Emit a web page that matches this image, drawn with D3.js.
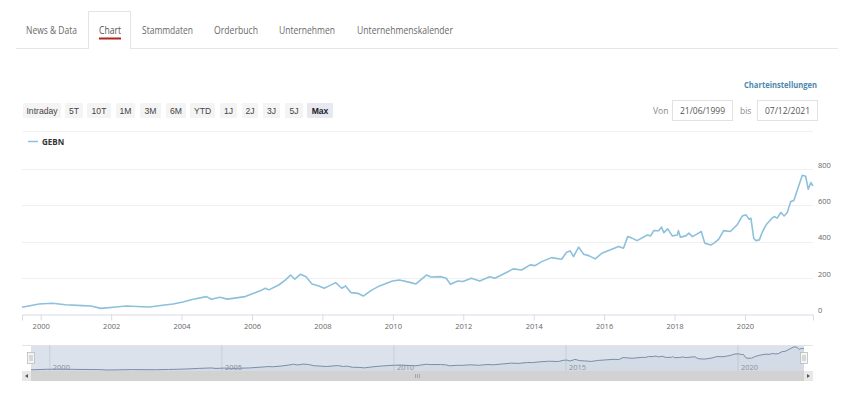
<!DOCTYPE html>
<html><head><meta charset="utf-8">
<script src="https://cdn.jsdelivr.net/npm/d3@7/dist/d3.min.js"></script>
<style>
html,body{margin:0;padding:0;background:#fff;}
svg{display:block;font-family:"Open Sans",sans-serif;}
</style></head>
<body><svg id="c" width="860" height="394"></svg>
<script>
// ---- data ----
const tabs = ["News & Data","Chart","Stammdaten","Orderbuch","Unternehmen","Unternehmenskalender"];
const rangeButtons = ["Intraday","5T","10T","1M","3M","6M","YTD","1J","2J","3J","5J","Max"];
const seriesName = "GEBN";
const fromDate = "21/06/1999";
const toDate = "07/12/2021";
const yTicks = [0,200,400,600,800];
const dates = ["1999-06-21","1999-12-15","2000-05-01","2000-09-15","2001-03-10","2001-06-05","2001-09-15","2002-02-20","2002-06-05","2002-11-25","2003-02-01","2003-06-20","2003-10-05","2004-01-15","2004-05-01","2004-09-15","2004-11-05","2005-02-01","2005-04-20","2005-10-22","2006-04-15","2006-05-20","2006-06-25","2006-10-05","2006-12-15","2007-02-05","2007-03-20","2007-05-18","2007-07-15","2007-09-15","2007-11-25","2008-01-20","2008-03-10","2008-05-18","2008-07-20","2008-08-28","2008-10-22","2009-01-01","2009-03-01","2009-05-18","2009-08-15","2009-12-28","2010-03-10","2010-07-08","2010-08-28","2010-12-15","2011-02-01","2011-05-15","2011-07-08","2011-08-22","2011-11-05","2011-12-28","2012-03-25","2012-06-20","2012-10-01","2012-11-25","2013-03-08","2013-06-03","2013-08-28","2013-11-25","2014-01-15","2014-03-25","2014-07-05","2014-10-18","2014-12-08","2015-01-15","2015-02-18","2015-04-12","2015-06-03","2015-07-25","2015-10-01","2015-12-08","2016-03-08","2016-05-30","2016-07-20","2016-09-02","2016-10-12","2016-12-08","2017-03-25","2017-04-28","2017-05-30","2017-07-20","2017-08-18","2017-09-12","2017-10-22","2017-12-08","2018-01-30","2018-02-10","2018-03-03","2018-04-28","2018-05-30","2018-07-05","2018-08-25","2018-10-05","2018-11-10","2019-01-12","2019-02-14","2019-04-05","2019-05-25","2019-08-03","2019-09-05","2019-10-12","2019-12-05","2020-01-12","2020-02-14","2020-03-03","2020-04-01","2020-04-22","2020-05-30","2020-07-01","2020-08-08","2020-09-28","2020-10-30","2020-12-01","2021-01-08","2021-02-10","2021-03-15","2021-04-20","2021-05-22","2021-08-18","2021-09-22","2021-10-18","2021-11-15","2021-12-07"];
const values = [37,55,59,51,46,44,31,39,44,40,39,48,55,66,81,96,81,92,82,96,133,142,133,160,188,215,192,219,206,166,155,142,155,173,142,155,118,114,99,129,155,182,188,173,166,215,204,206,197,164,182,179,197,182,206,197,225,249,243,271,267,289,311,302,341,348,317,369,330,322,304,335,355,372,363,427,420,405,436,431,460,459,479,449,470,431,436,460,424,431,446,427,442,455,391,381,391,413,460,455,473,492,541,547,523,529,418,405,409,455,492,523,538,529,560,541,560,620,626,765,760,689,725,707];

const parse = d3.timeParse("%Y-%m-%d");
const data = dates.map((d,i)=>({date:parse(d), value:values[i]}));
const svg = d3.select("#c");
const lineColor = "#8cc0dc";

// ---- tabs ----
const tabX = [[26,77],[99,121],[142,193],[214,258],[279,335],[357,453]];
svg.append("line").attr("x1",16).attr("x2",838).attr("y1",48.5).attr("y2",48.5).attr("stroke","#e6e6e6");
svg.append("path").attr("d","M88.5,49 V11.5 H130.5 V49").attr("fill","#fff").attr("stroke","#e3e3e3");
svg.append("rect").attr("x",89).attr("y",46).attr("width",41).attr("height",4).attr("fill","#fff");
tabs.forEach((t,i)=>{
  svg.append("text").attr("x",tabX[i][0]).attr("y",34).text(t)
    .attr("font-size",11).attr("fill", i===1?"#555":"#6a6a6a")
    .attr("textLength",tabX[i][1]-tabX[i][0]).attr("lengthAdjust","spacingAndGlyphs");
});
svg.append("rect").attr("x",99).attr("y",37.5).attr("width",22).attr("height",2).attr("fill","#b0261d");

// ---- range buttons ----
const btnX = [[23,61],[65,83],[87,111],[116,135],[140,161],[166,186],[190,215],[220,237],[242,258],[263,280],[285,303],[307,333]];
rangeButtons.forEach((b,i)=>{
  const sel = b==="Max";
  svg.append("rect").attr("x",btnX[i][0]).attr("y",103).attr("width",btnX[i][1]-btnX[i][0]).attr("height",15)
    .attr("fill", sel?"#e7e8f1":"#f4f4f4").attr("rx",1);
  svg.append("text").attr("x",(btnX[i][0]+btnX[i][1])/2).attr("y",113.5).attr("text-anchor","middle")
    .attr("font-family","'Liberation Sans',Arial,sans-serif").attr("font-size",8.6)
    .attr("font-weight",sel?"bold":"normal").attr("fill",sel?"#222":"#444").text(b);
});

// ---- right header ----
svg.append("text").attr("x",744).attr("y",88).text("Charteinstellungen").attr("font-size",9.5).attr("font-weight","bold")
  .attr("fill","#4a88ad").attr("textLength",73).attr("lengthAdjust","spacingAndGlyphs");
svg.append("text").attr("x",653).attr("y",114).text("Von").attr("font-size",8.5).attr("fill","#888");
svg.append("rect").attr("x",672.5).attr("y",100.5).attr("width",60).attr("height",20).attr("fill","#fff").attr("stroke","#e2e2e2");
svg.append("text").attr("x",702.5).attr("y",114).attr("text-anchor","middle").text(fromDate).attr("font-size",8.5).attr("fill","#555");
svg.append("text").attr("x",740).attr("y",114).text("bis").attr("font-size",8.5).attr("fill","#888");
svg.append("rect").attr("x",757.5).attr("y",100.5).attr("width",60).attr("height",20).attr("fill","#fff").attr("stroke","#e2e2e2");
svg.append("text").attr("x",787.5).attr("y",114).attr("text-anchor","middle").text(toDate).attr("font-size",8.5).attr("fill","#555");

svg.append("line").attr("x1",23).attr("x2",813).attr("y1",131.5).attr("y2",131.5).attr("stroke","#f0f0f0");

// ---- legend ----
svg.append("line").attr("x1",28).attr("x2",38).attr("y1",141.5).attr("y2",141.5).attr("stroke",lineColor).attr("stroke-width",1.5);
svg.append("text").attr("x",42).attr("y",144.5).text(seriesName).attr("font-size",8).attr("font-weight","bold").attr("fill","#333");

// ---- main chart ----
const domain = [parse("1999-06-21"), parse("2021-12-07")];
const x = d3.scaleTime().domain(domain).range([22,813]);
const y = d3.scaleLinear().domain([0,800]).range([314,169]);

const grid = svg.append("g");
yTicks.filter(v=>v>0).forEach(v=>{
  grid.append("line").attr("x1",22).attr("x2",813).attr("y1",Math.round(y(v))+0.5).attr("y2",Math.round(y(v))+0.5).attr("stroke","#f0f0f0");
});
const yAxis = d3.axisRight(y).tickValues(yTicks).tickSize(0).tickPadding(0);
const ya = svg.append("g").attr("transform","translate(818,-4)").call(yAxis);
ya.select(".domain").remove();
ya.selectAll("text").attr("font-size",7.5).attr("fill","#666").attr("font-family","'Open Sans',sans-serif");

const xAxis = d3.axisBottom(x).ticks(d3.timeYear.every(2)).tickFormat(d3.timeFormat("%Y")).tickSizeOuter(0).tickSize(6).tickPadding(3);
const xa = svg.append("g").attr("transform","translate(0,314.5)").call(xAxis);
xa.select(".domain").attr("stroke","#d6dbe6");
xa.selectAll(".tick line").attr("stroke","#d6dbe6");
xa.selectAll("text").attr("font-size",7.5).attr("fill","#666").attr("font-family","'Open Sans',sans-serif");

const line = d3.line().x(d=>x(d.date)).y(d=>y(d.value));
svg.append("path").datum(data).attr("d",line).attr("fill","none").attr("stroke",lineColor).attr("stroke-width",1.6).attr("stroke-linejoin","round");

// ---- navigator ----
const nx = d3.scaleTime().domain(domain).range([31,804]);
const ny = d3.scaleLinear().domain(d3.extent(values)).range([370,347]);
svg.append("rect").attr("x",31).attr("y",345).attr("width",773).attr("height",26).attr("fill","#dce2eb");
svg.append("line").attr("x1",22).attr("x2",813).attr("y1",345.5).attr("y2",345.5).attr("stroke","#e4e4e4");
const navAxis = d3.axisBottom(nx).ticks(d3.timeYear.every(5)).tickFormat(d3.timeFormat("%Y")).tickSize(26).tickPadding(0);
const na = svg.append("g").attr("transform","translate(0,345)").call(navAxis);
na.select(".domain").remove();
na.selectAll(".tick line").attr("stroke","#c9ced7");
na.selectAll("text").attr("font-size",7.5).attr("fill","#8a8f99").attr("text-anchor","start")
  .attr("x",3).attr("y",24.5).attr("dy",0).attr("font-family","'Open Sans',sans-serif");
const area = d3.area().x(d=>nx(d.date)).y0(371).y1(d=>ny(d.value));
svg.append("path").datum(data).attr("d",area).attr("fill","rgba(150,170,200,0.12)");
svg.append("path").datum(data).attr("d",d3.line().x(d=>nx(d.date)).y(d=>ny(d.value))).attr("fill","none").attr("stroke","#7a8ea6").attr("stroke-width",1);
// handles
[31,804].forEach(hx=>{
  svg.append("rect").attr("x",hx-3.5).attr("y",352.5).attr("width",7).attr("height",11).attr("fill","#f4f4f4").attr("stroke","#b5b5b5").attr("stroke-width",0.7);
  svg.append("line").attr("x1",hx-1).attr("x2",hx-1).attr("y1",355).attr("y2",361).attr("stroke","#999").attr("stroke-width",0.6);
  svg.append("line").attr("x1",hx+1).attr("x2",hx+1).attr("y1",355).attr("y2",361).attr("stroke","#999").attr("stroke-width",0.6);
});
// scrollbar
svg.append("rect").attr("x",22).attr("y",371).attr("width",791).attr("height",10).attr("fill","#d2d2d2");
svg.append("rect").attr("x",22).attr("y",371).attr("width",9).attr("height",10).attr("fill","#e8e8e8");
svg.append("rect").attr("x",804).attr("y",371).attr("width",9).attr("height",10).attr("fill","#e8e8e8");
svg.append("path").attr("d","M28,374 L25,376 L28,378 Z").attr("fill","#555");
svg.append("path").attr("d","M807,374 L810,376 L807,378 Z").attr("fill","#555");
[-2,0,2].forEach(o=>{
  svg.append("line").attr("x1",417+o+0.5).attr("x2",417+o+0.5).attr("y1",374).attr("y2",378).attr("stroke","#999").attr("stroke-width",0.8);
});
</script></body></html>
